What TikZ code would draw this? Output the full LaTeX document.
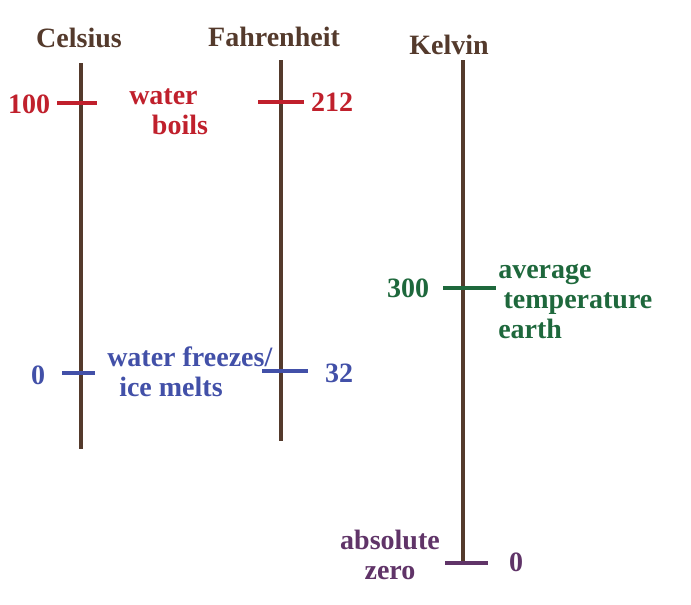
\documentclass[tikz,border=0pt]{standalone}
\usepackage{fontspec}
\setmainfont{Liberation Serif}
\definecolor{scalebrown}{RGB}{84,58,44}
\definecolor{boilred}{RGB}{192,32,44}
\definecolor{freezeblue}{RGB}{66,80,168}
\definecolor{earthgreen}{RGB}{30,104,60}
\definecolor{zeropurple}{RGB}{96,52,104}

\begin{document}
\begin{tikzpicture}[x=0.75pt,y=-0.75pt,
    lbl/.style={font=\fontsize{21}{22.5}\selectfont\bfseries, inner sep=0pt},
    axis/.style={scalebrown, line width=2.6pt},
    tick/.style={line width=2.6pt}]
          \useasboundingbox (0,0) rectangle (691,604);
          % scale names
          \node[lbl, scalebrown] (cel) at (79,38) {Celsius};
          \node[lbl, scalebrown] (fah) at (274,37) {Fahrenheit};
          \node[lbl, scalebrown] (kel) at (449,45) {Kelvin};
          % the three scales
          \coordinate (celtop) at (81,63);   \coordinate (celbot) at (81,449);
          \coordinate (fahtop) at (281,60);  \coordinate (fahbot) at (281,441);
          \coordinate (keltop) at (463,60);  \coordinate (kelbot) at (463,565);
          \draw[axis] (celtop) -- (celbot);
          \draw[axis] (fahtop) -- (fahbot);
          \draw[axis] (keltop) -- (kelbot);
          % boiling point
          \draw[tick, boilred] (57,103) coordinate (cb1) -- (97,103) coordinate (cb2);
          \draw[tick, boilred] (258,102) coordinate (fb1) -- (304,102) coordinate (fb2);
          \node[lbl, boilred] (c100) at (29,104) {100};
          \node[lbl, boilred] (f212) at (332,102) {212};
          \node[lbl, boilred, align=left, anchor=west] (boils) at (129,112) {water\\\hspace{17pt}boils};
          % freezing point
          \draw[tick, freezeblue] (62,373) coordinate (cf1) -- (95,373) coordinate (cf2);
          \draw[tick, freezeblue] (262,371) coordinate (ff1) -- (308,371) coordinate (ff2);
          \node[lbl, freezeblue] (c0) at (38,375) {0};
          \node[lbl, freezeblue] (f32) at (339,373) {32};
          \node[lbl, freezeblue, align=left, anchor=west] (freezes) at (107,372) {water freezes/\\\hspace{9pt}ice melts};
          % earth
          \draw[tick, earthgreen] (443,288) coordinate (ke1) -- (496,288) coordinate (ke2);
          \node[lbl, earthgreen] (k300) at (408,288) {300};
          \node[lbl, earthgreen, align=left, anchor=west] (earth) at (498,301) {average\\\hspace{4pt}temperature\\earth};
          % absolute zero
          \draw[tick, zeropurple] (445,563) coordinate (kz1) -- (488,563) coordinate (kz2);
          \node[lbl, zeropurple] (k0) at (516,562) {0};
          \node[lbl, zeropurple, align=center] (abszero) at (390,555) {absolute\\zero};
        \end{tikzpicture}
\end{document}
